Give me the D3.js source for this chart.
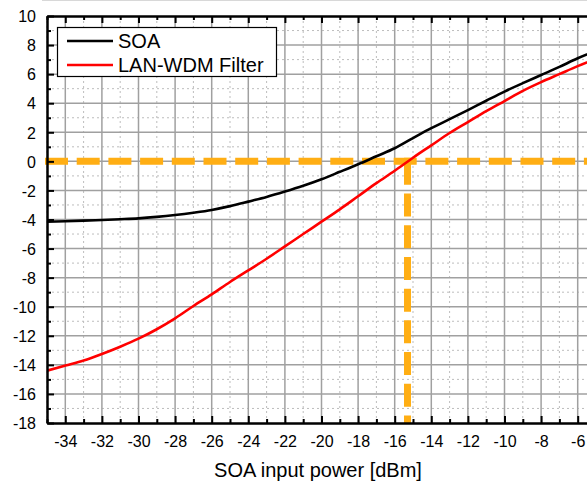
<!DOCTYPE html>
<html><head><meta charset="utf-8">
<script src="https://cdn.jsdelivr.net/npm/d3@7"></script>
<style>body{margin:0;background:#fff}svg{display:block;font-family:"Liberation Sans",Arial,sans-serif}</style>
</head><body>
<script>
const xValues = [-35,-34,-33,-32,-31,-30,-29,-28,-27,-26,-25,-24,-23,-22,-21,-20,-19,-18,-17,-16,-15,-14,-13,-12,-11,-10,-9,-8,-7,-6,-5];
const soa = [-4.15,-4.12,-4.08,-4.03,-3.98,-3.92,-3.82,-3.69,-3.53,-3.34,-3.08,-2.77,-2.45,-2.08,-1.68,-1.23,-0.72,-0.2,0.35,0.9,1.6,2.28,2.9,3.53,4.17,4.8,5.38,5.94,6.5,7.09,7.6];
const lanwdm = [-14.4,-14.05,-13.7,-13.25,-12.75,-12.2,-11.55,-10.8,-9.95,-9.15,-8.3,-7.5,-6.7,-5.85,-5.0,-4.15,-3.3,-2.4,-1.5,-0.65,0.25,1.1,1.95,2.7,3.45,4.15,4.85,5.45,6.0,6.55,7.05];
const seriesNames = ["SOA","LAN-WDM Filter"];
const seriesColors = ["#000000","#ff0000"];
const xTicks = [-34,-32,-30,-28,-26,-24,-22,-20,-18,-16,-14,-12,-10,-8,-6];
const yTicks = [-18,-16,-14,-12,-10,-8,-6,-4,-2,0,2,4,6,8,10];
const refY = 0;
const refX = -15.3;
const xLabel = "SOA input power [dBm]";

const W = 587, H = 482;
const svg = d3.select("body").append("svg").attr("width",W).attr("height",H);
const x = d3.scaleLinear().domain([-35,-5]).range([47,596]);
const y = d3.scaleLinear().domain([-18,10]).range([423,16]);
const [x0,x1] = x.range(), [y0,y1] = y.range();
const fmt = d => String(d);

svg.append("line").attr("x1",42).attr("x2",W).attr("y1",0.5).attr("y2",0.5).attr("stroke","#d8d8d8").attr("stroke-width",1);

svg.append("defs").append("clipPath").attr("id","clip").append("rect")
  .attr("x",x0).attr("y",y1).attr("width",x1-x0).attr("height",y0-y1);

const xMinor = d3.range(-35,-4,1).filter(v=>v%2!==0);
const yMinor = d3.range(-17,10,2);
const g = svg.append("g");
g.selectAll(".vmin").data(xMinor).join("line").attr("x1",d=>x(d)).attr("x2",d=>x(d)).attr("y1",y1).attr("y2",y0)
  .attr("stroke","#bdbdbd").attr("stroke-width",1).attr("stroke-dasharray","2,3");
g.selectAll(".hmin").data(yMinor).join("line").attr("y1",d=>y(d)).attr("y2",d=>y(d)).attr("x1",x0).attr("x2",x1)
  .attr("stroke","#bdbdbd").attr("stroke-width",1).attr("stroke-dasharray","2,3");
g.selectAll(".vmaj").data(xTicks).join("line").attr("x1",d=>x(d)).attr("x2",d=>x(d)).attr("y1",y1).attr("y2",y0)
  .attr("stroke","#a0a0a0").attr("stroke-width",1.5);
g.selectAll(".hmaj").data(yTicks.slice(1,-1)).join("line").attr("y1",d=>y(d)).attr("y2",d=>y(d)).attr("x1",x0).attr("x2",x1)
  .attr("stroke","#a0a0a0").attr("stroke-width",1.5);

const orange = "#ffae14";
svg.append("line").attr("x1",45).attr("x2",x1).attr("y1",y(refY)).attr("y2",y(refY))
  .attr("stroke",orange).attr("stroke-width",7).attr("stroke-dasharray","23,8.7");
svg.append("line").attr("x1",x(refX)).attr("x2",x(refX)).attr("y1",y(refY)-3.5).attr("y2",y0)
  .attr("stroke",orange).attr("stroke-width",7).attr("stroke-dasharray","27,8.7,23,8.7,23,8.7,23,8.7,23,8.7,23,8.7,23,8.7,23,8.7");

const line = d3.line().x(d=>x(d[0])).y(d=>y(d[1])).curve(d3.curveMonotoneX);
[soa, lanwdm].forEach((s,i)=>{
  svg.append("path").attr("clip-path","url(#clip)").datum(xValues.map((v,j)=>[v,s[j]]))
    .attr("d",line).attr("fill","none").attr("stroke",seriesColors[i]).attr("stroke-width",2.6);
});

const axB = svg.append("g").attr("transform",`translate(0,${y0})`)
  .call(d3.axisBottom(x).tickValues(xTicks).tickSizeInner(-7).tickSizeOuter(0).tickPadding(13).tickFormat(fmt));
const axL = svg.append("g").attr("transform",`translate(${x0},0)`)
  .call(d3.axisLeft(y).tickValues(yTicks).tickSizeInner(-7).tickSizeOuter(0).tickPadding(11).tickFormat(fmt));
const axT = svg.append("g").attr("transform",`translate(0,${y1})`)
  .call(d3.axisTop(x).tickValues(xTicks).tickSizeInner(-7).tickSizeOuter(0).tickFormat(""));
const axBm = svg.append("g").attr("transform",`translate(0,${y0})`)
  .call(d3.axisBottom(x).tickValues(xMinor).tickSizeInner(-4).tickSizeOuter(0).tickFormat(""));
const axTm = svg.append("g").attr("transform",`translate(0,${y1})`)
  .call(d3.axisTop(x).tickValues(xMinor).tickSizeInner(-4).tickSizeOuter(0).tickFormat(""));
const axLm = svg.append("g").attr("transform",`translate(${x0},0)`)
  .call(d3.axisLeft(y).tickValues(yMinor).tickSizeInner(-4).tickSizeOuter(0).tickFormat(""));
[axB,axL,axT,axBm,axTm,axLm].forEach(a=>{
  a.select(".domain").attr("stroke","#000").attr("stroke-width",2);
  a.selectAll(".tick line").attr("stroke","#000").attr("stroke-width",2);
  a.selectAll("text").attr("font-size",16).attr("fill","#000").attr("font-family","Liberation Sans, Arial, sans-serif");
});
axL.selectAll("text").attr("dy","0.36em");

svg.append("text").attr("x",318).attr("y",477).attr("text-anchor","middle")
  .attr("font-size",20).attr("fill","#000").text(xLabel);

const lg = svg.append("g");
lg.append("rect").attr("x",57.5).attr("y",27.5).attr("width",219).attr("height",49)
  .attr("fill","#fff").attr("stroke","#000").attr("stroke-width",1.2);
seriesNames.forEach((n,i)=>{
  const ly = 41 + i*24;
  lg.append("line").attr("x1",67).attr("x2",113).attr("y1",ly).attr("y2",ly)
    .attr("stroke",seriesColors[i]).attr("stroke-width",2.6);
  lg.append("text").attr("x",118).attr("y",ly).attr("dy","0.35em").attr("font-size",20).attr("fill","#000").text(n);
});
</script>
</body></html>
